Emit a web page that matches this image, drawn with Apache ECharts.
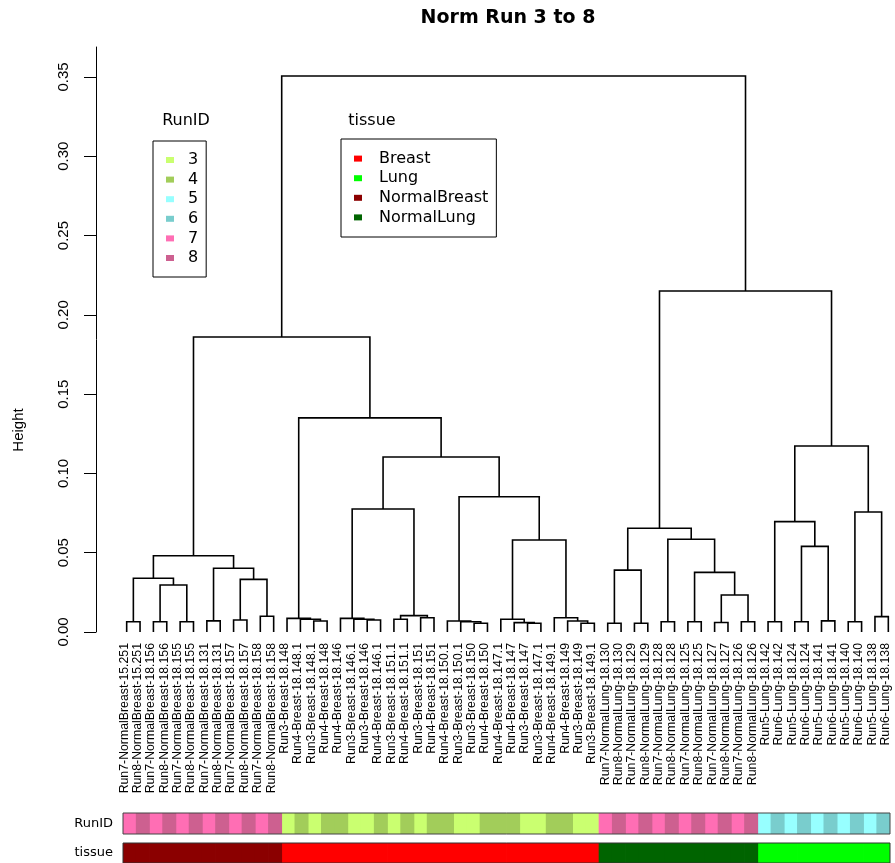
<!DOCTYPE html>
<html>
<head>
<meta charset="utf-8">
<title>Norm Run 3 to 8</title>
<script src="https://cdn.jsdelivr.net/npm/echarts@6/dist/echarts.min.js"></script>
<style>
html, body { margin: 0; padding: 0; background: #fff; }
#chart { width: 895px; height: 863px; }
</style>
</head>
<body>
<div id="chart"></div>
<script>
// leaves, in dendrogram order
const leafLabels = [
  'Run7-NormalBreast-15.251', 'Run8-NormalBreast-15.251', 'Run7-NormalBreast-18.156', 'Run8-NormalBreast-18.156',
  'Run7-NormalBreast-18.155', 'Run8-NormalBreast-18.155', 'Run7-NormalBreast-18.131', 'Run8-NormalBreast-18.131',
  'Run7-NormalBreast-18.157', 'Run8-NormalBreast-18.157', 'Run7-NormalBreast-18.158', 'Run8-NormalBreast-18.158',
  'Run3-Breast-18.148', 'Run4-Breast-18.148.1', 'Run3-Breast-18.148.1', 'Run4-Breast-18.148',
  'Run4-Breast-18.146', 'Run3-Breast-18.146.1', 'Run3-Breast-18.146', 'Run4-Breast-18.146.1',
  'Run3-Breast-18.151.1', 'Run4-Breast-18.151.1', 'Run3-Breast-18.151', 'Run4-Breast-18.151',
  'Run4-Breast-18.150.1', 'Run3-Breast-18.150.1', 'Run3-Breast-18.150', 'Run4-Breast-18.150',
  'Run4-Breast-18.147.1', 'Run4-Breast-18.147', 'Run3-Breast-18.147', 'Run3-Breast-18.147.1',
  'Run4-Breast-18.149.1', 'Run4-Breast-18.149', 'Run3-Breast-18.149', 'Run3-Breast-18.149.1',
  'Run7-NormalLung-18.130', 'Run8-NormalLung-18.130', 'Run7-NormalLung-18.129', 'Run8-NormalLung-18.129',
  'Run7-NormalLung-18.128', 'Run8-NormalLung-18.128', 'Run7-NormalLung-18.125', 'Run8-NormalLung-18.125',
  'Run7-NormalLung-18.127', 'Run8-NormalLung-18.127', 'Run7-NormalLung-18.126', 'Run8-NormalLung-18.126',
  'Run5-Lung-18.142', 'Run6-Lung-18.142', 'Run5-Lung-18.124', 'Run6-Lung-18.124',
  'Run5-Lung-18.141', 'Run6-Lung-18.141', 'Run5-Lung-18.140', 'Run6-Lung-18.140',
  'Run5-Lung-18.138', 'Run6-Lung-18.138'
];

// hclust style merge table: -k = leaf k, +k = merge k
const merges = [
  [-1, -2], [-3, -4], [-5, -6], [2, 3], [1, 4], [-7, -8], [-9, -10], [-11, -12], [7, 8], [6, 9], [5, 10],
  [-15, -16], [-14, 12], [-13, 13], [-19, -20], [-18, 15], [-17, 16], [-21, -22], [-23, -24], [18, 19], [17, 20],
  [-27, -28], [-26, 22], [-25, 23], [-31, -32], [-30, 25], [-29, 26], [-35, -36], [-34, 28], [-33, 29],
  [27, 30], [24, 31], [21, 32], [14, 33],
  [-37, -38], [-39, -40], [35, 36], [-41, -42], [-43, -44], [-45, -46], [-47, -48], [40, 41], [39, 42], [38, 43], [37, 44],
  [-49, -50], [-51, -52], [-53, -54], [47, 48], [46, 49], [-55, -56], [-57, -58], [51, 52], [50, 53],
  [45, 54], [11, 34], [56, 55]
];
const mergeHeights = [
  0.0065, 0.0065, 0.0065, 0.0296, 0.0339, 0.0070, 0.0076, 0.0099, 0.0332, 0.0402, 0.0481,
  0.0069, 0.0080, 0.0086, 0.0076, 0.0080, 0.0086, 0.0080, 0.0090, 0.0103, 0.0776,
  0.0055, 0.0065, 0.0069, 0.0055, 0.0059, 0.0080, 0.0055, 0.0069, 0.0090,
  0.0580, 0.0853, 0.1104, 0.1350,
  0.0055, 0.0055, 0.0390, 0.0065, 0.0065, 0.0060, 0.0065, 0.0233, 0.0376, 0.0585, 0.0654,
  0.0065, 0.0065, 0.0070, 0.0540, 0.0696, 0.0065, 0.0097, 0.0757, 0.1173,
  0.2150, 0.1860, 0.3506
];

const heightTicks = [0, 0.05, 0.10, 0.15, 0.20, 0.25, 0.30, 0.35];
const runIds = ['3', '4', '5', '6', '7', '8'];
const tissues = ['Breast', 'Lung', 'NormalBreast', 'NormalLung'];

const runColors = { '3': '#CAFF70', '4': '#A2CD5A', '5': '#97FFFF', '6': '#79CDCD', '7': '#FF6EB4', '8': '#CD6090' };
const tissueColors = { Breast: '#FF0000', Lung: '#00FF00', NormalBreast: '#8B0000', NormalLung: '#006400' };

const runOf = l => l.match(/^Run(\d)/)[1];
const tissueOf = l => l.split('-')[1];

// dendrogram segments: each merge is a U joining its two children
const nodeX = [], nodeH = [];
const segments = [];
const nodePos = id => id < 0 ? [-id, 0] : [nodeX[id - 1], nodeH[id - 1]];
merges.forEach(([a, b], i) => {
  const [xa, ha] = nodePos(a);
  const [xb, hb] = nodePos(b);
  const h = mergeHeights[i];
  nodeX.push((xa + xb) / 2);
  nodeH.push(h);
  segments.push({ coords: [[xa, ha], [xa, h], [xb, h], [xb, hb]] });
});

const font = 'Liberation Sans';
const wide = 'DejaVu Sans';

// colour strips: one bar series per group, overlapping, slightly wider than a cell so no seams show
const runSeries = runIds.map(r => ({
  name: r, type: 'bar', xAxisIndex: 2, yAxisIndex: 2,
  data: leafLabels.map(l => runOf(l) === r ? 1 : '-'),
  barWidth: 14, barGap: '-100%', silent: true,
  itemStyle: { color: runColors[r], borderWidth: 0 }
}));
const tissueSeries = tissues.map(t => ({
  name: t, type: 'bar', xAxisIndex: 3, yAxisIndex: 4,
  data: leafLabels.map(l => tissueOf(l) === t ? 1 : '-'),
  barWidth: 14, barGap: '-100%', silent: true,
  itemStyle: { color: tissueColors[t], borderWidth: 0 }
}));

const legendBase = {
  orient: 'vertical', icon: 'rect', itemWidth: 8, itemHeight: 6, itemGap: 3.6,
  borderColor: '#000', borderWidth: 1, selectedMode: false
};

const chart = echarts.init(document.getElementById('chart'));
chart.setOption({
  animation: false,
  backgroundColor: '#fff',
  title: [
    { text: 'Norm Run 3 to 8', left: 508, top: 9, padding: 0, textAlign: 'center',
      textStyle: { fontFamily: wide, fontWeight: 'bold', fontSize: 19, color: '#000' } },
    { text: 'RunID', left: 186, top: 113, padding: 0, textAlign: 'center',
      textStyle: { fontFamily: wide, fontWeight: 'normal', fontSize: 16, color: '#000' } },
    { text: 'tissue', left: 372, top: 113, padding: 0, textAlign: 'center',
      textStyle: { fontFamily: wide, fontWeight: 'normal', fontSize: 16, color: '#000' } }
  ],
  legend: [
    Object.assign({}, legendBase, {
      data: runIds, left: 153, top: 141, padding: [11, 8, 11, 13],
      textStyle: { fontFamily: wide, fontSize: 16, lineHeight: 16, color: '#000', padding: [0, 0, 0, 9] }
    }),
    Object.assign({}, legendBase, {
      data: tissues, left: 341, top: 139, padding: [11.6, 8, 11.6, 13],
      textStyle: { fontFamily: wide, fontSize: 16, lineHeight: 16, color: '#000', padding: [0, 0, 0, 12] }
    })
  ],
  grid: [
    { left: 120, right: 0, top: 47, bottom: 231 },
    { left: 117.5, right: 2.5, top: 47, bottom: 231 },
    { left: 123, right: 5, top: 813, height: 21, show: true, z: 5,
      borderColor: '#444', borderWidth: 1, backgroundColor: 'rgba(0,0,0,0)' },
    { left: 123, right: 5, top: 843, bottom: -3, show: true, z: 5,
      borderColor: '#333', borderWidth: 1, backgroundColor: 'rgba(0,0,0,0)' },
    // holds only the "Height" title, centred over the whole figure height
    { left: 96, width: 1, top: 47, bottom: 50 }
  ],
  xAxis: [
    { gridIndex: 0, type: 'value', min: 0.5, max: 58.5, show: false, position: 'top' },
    { gridIndex: 1, type: 'category', data: leafLabels, position: 'bottom',
      axisLine: { show: false }, axisTick: { show: false },
      axisLabel: { interval: 0, rotate: 90, margin: 11, fontFamily: font, fontSize: 12.3, color: '#000' } },
    { gridIndex: 2, type: 'category', data: leafLabels, show: false },
    { gridIndex: 3, type: 'category', data: leafLabels, show: false },
    { gridIndex: 4, type: 'value', show: false }
  ],
  yAxis: [
    { gridIndex: 0, type: 'value', min: 0, max: 0.3689, offset: 24,
      axisLine: { show: true, lineStyle: { color: '#000', width: 1 } },
      axisTick: { show: true, length: 12, customValues: heightTicks, lineStyle: { color: '#000' } },
      axisLabel: { customValues: heightTicks, rotate: 90, margin: 25, fontFamily: font, fontSize: 15, color: '#000',
        formatter: v => v.toFixed(2) },
      splitLine: { show: false } },
    { gridIndex: 1, type: 'value', show: false },
    { gridIndex: 2, type: 'value', min: 0, max: 1, show: false, position: 'right' },
    { gridIndex: 2, type: 'category', data: ['RunID'], position: 'left',
      axisLine: { show: false }, axisTick: { show: false },
      axisLabel: { margin: 10, fontFamily: wide, fontSize: 13, color: '#000' } },
    { gridIndex: 3, type: 'value', min: 0, max: 1, show: false, position: 'right' },
    { gridIndex: 3, type: 'category', data: ['tissue'], position: 'left',
      axisLine: { show: false }, axisTick: { show: false },
      axisLabel: { margin: 10, fontFamily: wide, fontSize: 13, color: '#000' } },
    { gridIndex: 4, type: 'value', position: 'left',
      name: 'Height', nameLocation: 'middle', nameGap: 70,
      nameTextStyle: { fontFamily: font, fontSize: 15, color: '#000' },
      axisLine: { show: false }, axisTick: { show: false }, axisLabel: { show: false }, splitLine: { show: false } }
  ],
  series: [
    { type: 'lines', coordinateSystem: 'cartesian2d', xAxisIndex: 0, yAxisIndex: 0,
      polyline: true, silent: true, data: segments,
      lineStyle: { color: '#000', width: 1.6, opacity: 1 } }
  ].concat(runSeries, tissueSeries)
});
</script>
</body>
</html>
